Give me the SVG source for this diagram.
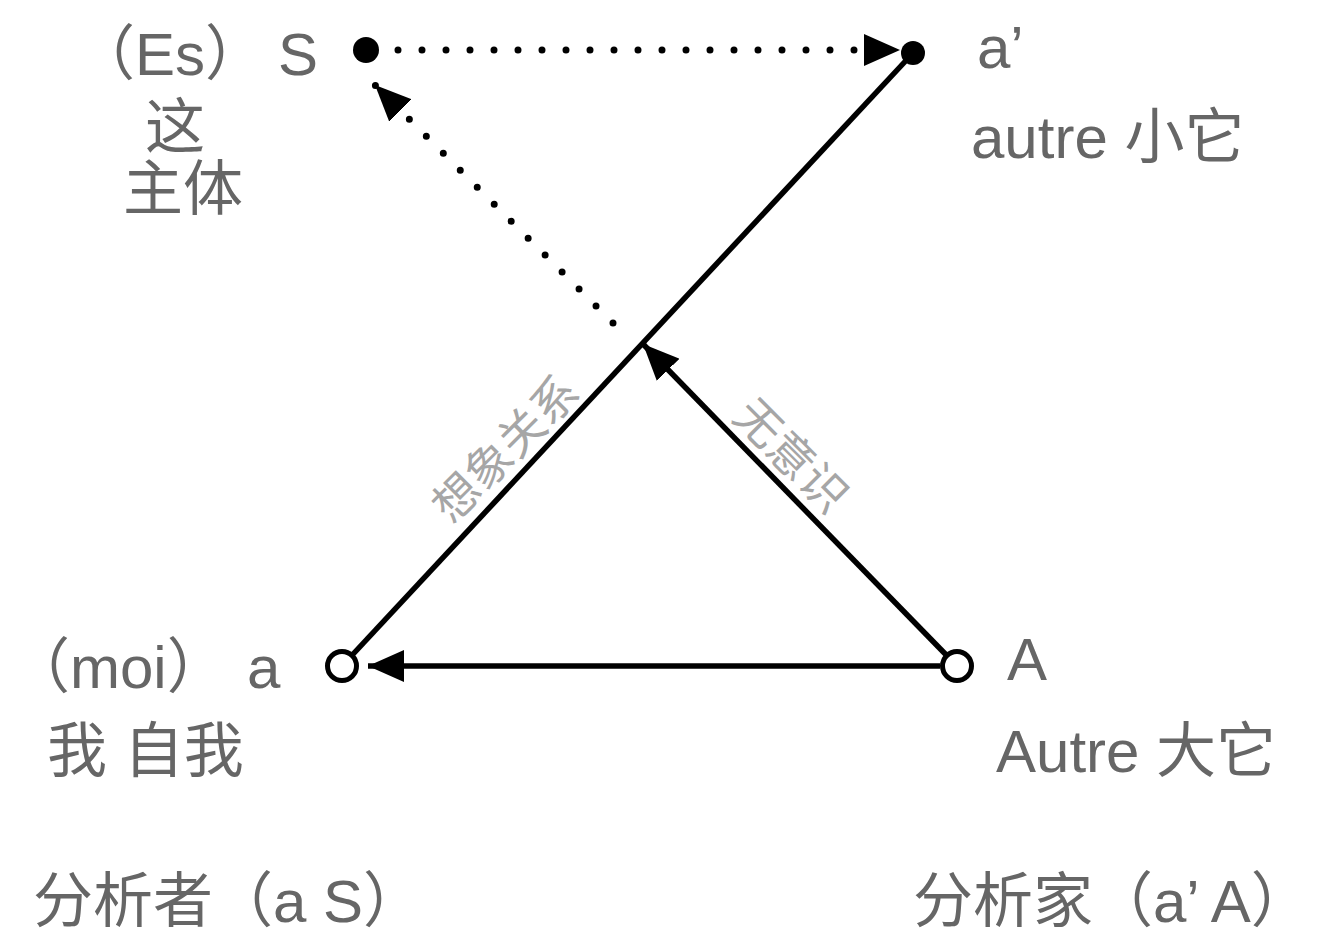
<svg xmlns="http://www.w3.org/2000/svg" width="1328" height="952" viewBox="0 0 1328 952">
<style>
.lbl{font-family:"Liberation Sans","Noto Sans CJK SC",sans-serif;font-size:60px;fill:#666666}
.edge{font-family:"Noto Sans CJK SC",sans-serif;font-size:46px;fill:#a6a6a6}
.solid{stroke:#000;stroke-width:5.5;fill:none}
.dotted{stroke:#000;stroke-width:7;fill:none;stroke-linecap:round;stroke-dasharray:0 24}
</style>
<defs>
<marker id="arr" markerUnits="userSpaceOnUse" markerWidth="36" markerHeight="32" viewBox="0 0 34 30" refX="34" refY="15" orient="auto">
<path d="M0,0 L34,15 L0,30 Z" fill="#000"/>
</marker>
</defs>
<rect width="1328" height="952" fill="#fff"/>
<g id="connectors">
<line class="solid" x1="342" y1="666" x2="913" y2="53"/>
<line class="solid" x1="940" y1="666" x2="368" y2="666" marker-end="url(#arr)"/>
<line class="solid" x1="957" y1="666" x2="643" y2="344" marker-end="url(#arr)"/>
<line class="dotted" x1="398" y1="50" x2="900" y2="50" marker-end="url(#arr)"/>
<line class="dotted" x1="613" y1="323" x2="375" y2="85" marker-end="url(#arr)"/>
<text class="edge" transform="translate(503,446) rotate(-45)" text-anchor="middle" dominant-baseline="central">想象关系</text>
<text class="edge" transform="translate(794,453) rotate(45)" text-anchor="middle" dominant-baseline="central">无意识</text>
</g>
<g id="node-S">
<circle cx="366" cy="50" r="13" fill="#000"/>
<text class="lbl" y="75"><tspan x="75">（Es）</tspan><tspan x="278">S</tspan></text>
<text class="lbl" x="175" y="148" text-anchor="middle">这</text>
<text class="lbl" x="183" y="210" text-anchor="middle">主体</text>
</g>
<g id="node-a-prime">
<circle cx="913" cy="53" r="12" fill="#000"/>
<text class="lbl" x="977" y="68">a’</text>
<text class="lbl" x="971" y="158">autre 小它</text>
</g>
<g id="node-a">
<circle cx="342" cy="666" r="14.5" fill="#fff" stroke="#000" stroke-width="5"/>
<text class="lbl" y="688"><tspan x="10">（moi）</tspan><tspan x="247">a</tspan></text>
<text class="lbl" x="47" y="772">我 自我</text>
</g>
<g id="node-A">
<circle cx="957" cy="666" r="14.5" fill="#fff" stroke="#000" stroke-width="5"/>
<text class="lbl" x="1007" y="680">A</text>
<text class="lbl" x="996" y="772">Autre 大它</text>
</g>
<g id="captions">
<text class="lbl" x="33" y="922">分析者（a S）</text>
<text class="lbl" x="913" y="922">分析家（a’ A）</text>
</g>
</svg>
